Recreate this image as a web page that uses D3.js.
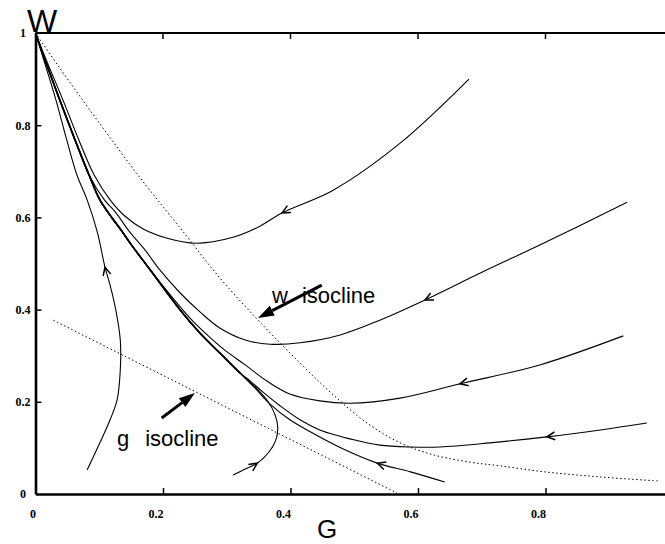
<!DOCTYPE html>
<html>
<head>
<meta charset="utf-8">
<script src="https://cdn.jsdelivr.net/npm/d3@7"></script>
<style>
  html, body { margin: 0; padding: 0; background: #fff; }
  svg { display: block; }
</style>
</head>
<body>
<svg id="chart" width="665" height="544"></svg>
<script>
/* ── DATA (G, W) ─────────────────────────────── */

const xTicks = [0, 0.2, 0.4, 0.6, 0.8];
const yTicks = [0, 0.2, 0.4, 0.6, 0.8, 1];

// isoclines
const wIsocline = [
  [0, 1], [0.038, 0.924], [0.101, 0.803], [0.164, 0.686], [0.227, 0.577],
  [0.289, 0.469], [0.352, 0.373], [0.415, 0.284], [0.467, 0.215], [0.520, 0.154],
  [0.572, 0.111], [0.624, 0.085], [0.682, 0.069], [0.729, 0.061], [0.799, 0.048],
  [0.886, 0.037], [0.980, 0.028]
];
const gIsocline = [[0.028, 0.377], [0.567, 0.002]];

// strong stable branch into (0,1), in flow order
const manifold = [
  [0.321, 0.262], [0.289, 0.306], [0.258, 0.349], [0.227, 0.399], [0.180, 0.486],
  [0.148, 0.545], [0.134, 0.573], [0.120, 0.599], [0.101, 0.638], [0.084, 0.692],
  [0.062, 0.768], [0.038, 0.855], [0.015, 0.941], [0, 1]
];

// trajectories (flow order)
const trajA = [
  [0.680, 0.900], [0.572, 0.761], [0.467, 0.659], [0.387, 0.610], [0.352, 0.581],
  [0.310, 0.557], [0.250, 0.544], [0.211, 0.553], [0.169, 0.575], [0.140, 0.603],
  [0.117, 0.638], [0.092, 0.692], [0.068, 0.768], [0.043, 0.855], [0.017, 0.941], [0, 1]
];
const trajB = [
  [0.928, 0.633], [0.791, 0.540], [0.697, 0.479], [0.611, 0.421], [0.540, 0.377],
  [0.478, 0.345], [0.415, 0.328], [0.368, 0.325], [0.329, 0.334], [0.289, 0.360],
  [0.258, 0.395], [0.227, 0.436], [0.195, 0.486], [0.172, 0.529], [0.148, 0.568],
  [0.125, 0.612], [0.108, 0.638]
].concat(manifold.slice(9));
const trajC = [
  [0.922, 0.343], [0.791, 0.280], [0.666, 0.239], [0.572, 0.208], [0.493, 0.197],
  [0.446, 0.202], [0.399, 0.217], [0.363, 0.245], [0.329, 0.280], [0.297, 0.312],
  [0.271, 0.343], [0.242, 0.382]
].concat(manifold.slice(4));
const trajD = [
  [0.959, 0.154], [0.886, 0.139], [0.802, 0.124], [0.713, 0.111], [0.635, 0.102],
  [0.588, 0.102], [0.540, 0.106], [0.501, 0.117], [0.446, 0.139], [0.415, 0.161],
  [0.384, 0.191], [0.355, 0.223], [0.337, 0.245]
].concat(manifold);
const trajE = [
  [0.642, 0.026], [0.588, 0.048], [0.536, 0.067], [0.482, 0.098], [0.431, 0.135],
  [0.399, 0.161], [0.368, 0.195], [0.344, 0.230]
].concat(manifold);
const trajF = [
  [0.310, 0.041], [0.329, 0.054], [0.348, 0.067], [0.365, 0.089], [0.377, 0.117],
  [0.380, 0.143], [0.376, 0.171], [0.365, 0.200], [0.349, 0.226], [0.333, 0.247]
].concat(manifold);
const trajL = [
  [0.081, 0.052], [0.101, 0.111], [0.117, 0.161], [0.128, 0.204], [0.133, 0.269],
  [0.133, 0.334], [0.126, 0.399], [0.117, 0.453], [0.109, 0.492], [0.097, 0.568],
  [0.081, 0.638], [0.065, 0.692], [0.049, 0.768], [0.032, 0.855], [0.013, 0.941], [0, 1]
];

const trajectories = [trajA, trajB, trajC, trajD, trajE, trajF, trajL];
// where the direction chevron sits on each trajectory
const arrowAt = [
  [0.387, 0.610], [0.611, 0.421], [0.666, 0.239], [0.802, 0.124],
  [0.536, 0.067], [0.348, 0.067], [0.109, 0.492]
];

// label pointers: [from, to]
const wPointer = [[0.449, 0.453], [0.349, 0.382]];
const gPointer = [[0.198, 0.165], [0.250, 0.219]];

/* ── SCALES ──────────────────────────────────── */

const x = d3.scaleLinear().domain([0, 1]).range([35.5, 673]);
const y = d3.scaleLinear().domain([0, 1]).range([494, 33]);
const svg = d3.select("#chart");

const line = d3.line()
  .x(d => x(d[0]))
  .y(d => y(d[1]))
  .curve(d3.curveCatmullRom.alpha(0.5));

/* ── ISOCLINES ───────────────────────────────── */

[wIsocline, gIsocline].forEach(pts => {
  svg.append("path")
    .datum(pts)
    .attr("d", line)
    .attr("fill", "none")
    .attr("stroke", "#000")
    .attr("stroke-width", 1)
    .attr("stroke-dasharray", "1.5,2.5");
});

/* ── TRAJECTORIES ────────────────────────────── */

svg.append("path")
  .datum(manifold)
  .attr("d", line)
  .attr("fill", "none")
  .attr("stroke", "#000")
  .attr("stroke-width", 1.8);

trajectories.forEach((pts, i) => {
  const p = svg.append("path")
    .datum(pts)
    .attr("d", line)
    .attr("fill", "none")
    .attr("stroke", "#000")
    .attr("stroke-width", 1.1);
  chevron(p.node(), arrowAt[i]);
});

function chevron(node, target) {
  const tx = x(target[0]), ty = y(target[1]);
  const len = node.getTotalLength();
  let best = 0, bd = Infinity;
  for (let s = 0; s <= len; s += 0.5) {
    const q = node.getPointAtLength(s);
    const d = (q.x - tx) ** 2 + (q.y - ty) ** 2;
    if (d < bd) { bd = d; best = s; }
  }
  const p0 = node.getPointAtLength(Math.max(0, best - 3));
  const p1 = node.getPointAtLength(Math.min(len, best + 3));
  const ang = Math.atan2(p1.y - p0.y, p1.x - p0.x);
  const tip = node.getPointAtLength(best);
  const a = 9, sp = 0.45;
  const l = [tip.x - a * Math.cos(ang - sp), tip.y - a * Math.sin(ang - sp)];
  const r = [tip.x - a * Math.cos(ang + sp), tip.y - a * Math.sin(ang + sp)];
  svg.append("path")
    .attr("d", `M${l[0]},${l[1]}L${tip.x},${tip.y}L${r[0]},${r[1]}`)
    .attr("fill", "none")
    .attr("stroke", "#000")
    .attr("stroke-width", 1.5);
}

/* ── LABEL POINTERS ──────────────────────────── */

[wPointer, gPointer].forEach(([from, to]) => {
  const x0 = x(from[0]), y0 = y(from[1]);
  const x1 = x(to[0]), y1 = y(to[1]);
  const ang = Math.atan2(y1 - y0, x1 - x0);
  const hl = 16, hw = 5.5;
  const bx = x1 - hl * Math.cos(ang), by = y1 - hl * Math.sin(ang);
  svg.append("line")
    .attr("x1", x0).attr("y1", y0).attr("x2", bx).attr("y2", by)
    .attr("stroke", "#000").attr("stroke-width", 3);
  const nx = -Math.sin(ang) * hw, ny = Math.cos(ang) * hw;
  svg.append("path")
    .attr("d", `M${x1},${y1}L${bx + nx},${by + ny}L${bx - nx},${by - ny}Z`)
    .attr("fill", "#000");
});

/* ── LABELS ──────────────────────────────────── */

const labelFont = "'Liberation Sans', Arial, sans-serif";
[["w", 0.371, 0.4143], ["isocline", 0.418, 0.4143],
 ["g", 0.128, 0.104], ["isocline", 0.172, 0.104]].forEach(([t, g, w]) => {
  svg.append("text")
    .attr("x", x(g)).attr("y", y(w))
    .attr("font-family", labelFont)
    .attr("font-size", 22)
    .text(t);
});

/* ── AXES ────────────────────────────────────── */

const fmt = d => (d === 0 ? "0" : d === 1 ? "1" : d3.format(".1f")(d));
const tickFont = "'Liberation Serif', 'Times New Roman', serif";

const xAxis = svg.append("g")
  .attr("transform", `translate(0,${y(0)})`)
  .call(d3.axisBottom(x).tickValues(xTicks).tickSizeInner(-6).tickSizeOuter(0).tickFormat(fmt));
xAxis.select(".domain").attr("stroke-width", 2.6);
xAxis.selectAll(".tick line").attr("stroke-width", 1.5);
xAxis.selectAll(".tick text")
  .attr("text-anchor", "end")
  .attr("y", 24).attr("dy", 0)
  .attr("fill", "#000")
  .attr("font-family", tickFont)
  .attr("font-weight", "bold")
  .attr("font-size", 12);

const yAxis = svg.append("g")
  .attr("transform", `translate(${x(0)},0)`)
  .call(d3.axisLeft(y).tickValues(yTicks).tickSizeInner(-6).tickSizeOuter(0).tickFormat(fmt));
yAxis.select(".domain").attr("stroke-width", 2.6);
yAxis.selectAll(".tick line")
  .attr("stroke-width", 1.5)
  .attr("display", d => (d === 0 || d === 1 ? "none" : null));
yAxis.selectAll(".tick text")
  .attr("text-anchor", "middle")
  .attr("x", -12.5)
  .attr("fill", "#000")
  .attr("font-family", tickFont)
  .attr("font-weight", "bold")
  .attr("font-size", 12);

// top frame
svg.append("line")
  .attr("x1", x(0)).attr("x2", x(1))
  .attr("y1", y(1)).attr("y2", y(1))
  .attr("stroke", "#000").attr("stroke-width", 2);
svg.selectAll(".top-tick")
  .data(xTicks.filter(d => d > 0))
  .join("line")
  .attr("class", "top-tick")
  .attr("x1", d => x(d)).attr("x2", d => x(d))
  .attr("y1", y(1)).attr("y2", y(1) + 6)
  .attr("stroke", "#000").attr("stroke-width", 1.5);

// axis titles
svg.append("text")
  .attr("x", 327).attr("y", 538)
  .attr("text-anchor", "middle")
  .attr("font-family", labelFont)
  .attr("font-size", 26)
  .text("G");
svg.append("text")
  .attr("x", 42).attr("y", 32)
  .attr("text-anchor", "middle")
  .attr("font-family", labelFont)
  .attr("font-size", 32)
  .text("W");
</script>
</body>
</html>
